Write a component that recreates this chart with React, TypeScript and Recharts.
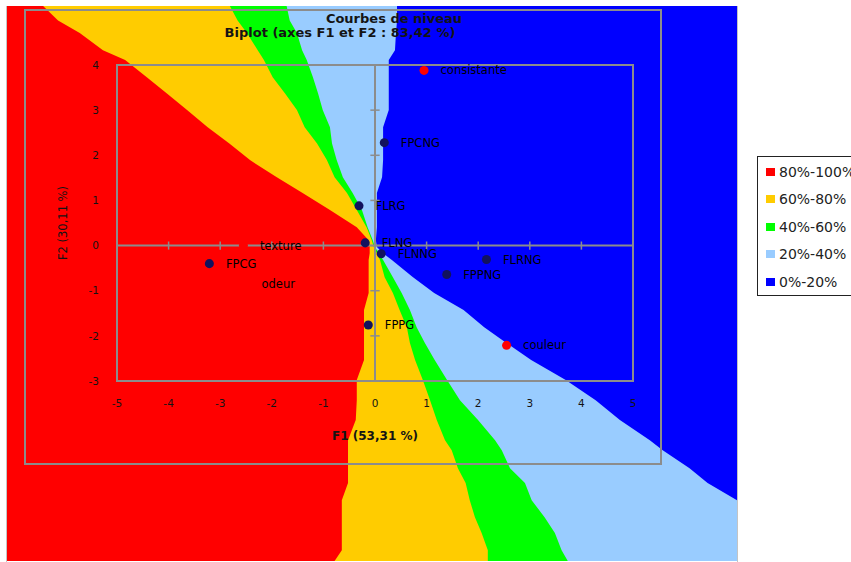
import React from "react";
import {
  ComposedChart,
  Area,
  ScatterChart,
  Scatter,
  XAxis,
  YAxis,
  ZAxis,
  ReferenceArea,
  ReferenceLine,
  LabelList,
} from "recharts";

const RED = "#ff0000";
const YELLOW = "#ffcc00";
const GREEN = "#00ff00";
const LIGHT_BLUE = "#99ccff";
const BLUE = "#0000ff";
const NAVY = "#12125e";
const GREY = "#8c8c8c";
const INK = "#000000";
const FONT = "'DejaVu Sans', Verdana, sans-serif";

// contour rows: F2 value, then the F1 value where each band ends (left to right)
const F2_ROWS = [5.32, 5.0, 4.72, 4.34, 4.12, 3.74, 3.38, 3.01, 2.63, 2.27, 1.9, 1.52, 1.17, 0.79, 0.41, 0.12, -0.03, -0.17, -0.32, -0.7, -1.05, -1.43, -1.81, -2.16, -2.54, -2.98, -3.43, -3.87, -4.32, -4.54, -4.94, -5.27, -5.65, -6.03, -6.38, -6.76, -7.0];
const EDGE_RED = [-6.43, -6.14, -5.72, -5.27, -4.84, -4.42, -4.03, -3.64, -3.24, -2.82, -2.42, -1.9, -1.4, -0.87, -0.35, -0.12, -0.1, -0.1, -0.12, -0.12, -0.12, -0.21, -0.21, -0.21, -0.21, -0.35, -0.35, -0.37, -0.52, -0.52, -0.52, -0.52, -0.64, -0.64, -0.64, -0.64, -0.78];
const EDGE_YELLOW = [-2.81, -2.66, -2.48, -2.27, -2.15, -1.98, -1.74, -1.51, -1.36, -1.12, -0.93, -0.78, -0.54, -0.35, -0.16, -0.06, -0.02, 0.04, 0.1, 0.19, 0.35, 0.48, 0.62, 0.68, 0.78, 0.93, 1.07, 1.2, 1.36, 1.49, 1.61, 1.76, 1.84, 1.94, 2.07, 2.19, 2.19];
const EDGE_GREEN = [-1.71, -1.65, -1.51, -1.41, -1.32, -1.2, -1.1, -1.01, -0.87, -0.83, -0.74, -0.62, -0.43, -0.25, -0.14, -0.04, 0.0, 0.08, 0.16, 0.35, 0.52, 0.68, 0.81, 0.97, 1.16, 1.4, 1.65, 2.0, 2.33, 2.46, 2.62, 2.91, 3.04, 3.29, 3.49, 3.62, 3.74];
const EDGE_LIGHT = [0.43, 0.43, 0.41, 0.39, 0.27, 0.27, 0.27, 0.27, 0.16, 0.16, 0.16, 0.14, 0.04, 0.04, 0.04, 0.02, 0.04, 0.16, 0.33, 0.74, 1.15, 1.72, 2.12, 2.55, 3.03, 3.7, 4.28, 4.75, 5.33, 5.58, 6.1, 6.45, 7.02, 7.02, 7.02, 7.02, 7.02];

const F1_MIN = -7.13;
const F1_MAX = 7.02;
const F2_MIN = -7.0;
const F2_MAX = 5.32;

const LEVELS = ["80%-100%", "60%-80%", "40%-60%", "20%-40%", "0%-20%"];
const LEVEL_COLORS = [RED, YELLOW, GREEN, LIGHT_BLUE, BLUE];

// observations (dark points)
const OBS_NAMES = ["FPCNG", "FLRG", "FLNG", "FLNNG", "FPCG", "FPPG", "FLRNG", "FPPNG"];
const OBS_F1 = [0.18, -0.31, -0.19, 0.12, -3.21, -0.13, 2.16, 1.39];
const OBS_F2 = [2.28, 0.88, 0.06, -0.18, -0.4, -1.76, -0.31, -0.64];

// variables (red points)
const VAR_NAMES = ["consistante", "couleur", "texture", "odeur"];
const VAR_F1 = [0.95, 2.55, -2.55, -2.52];
const VAR_F2 = [3.88, -2.21, 0.0, -0.84];

const X_TICKS = [-5, -4, -3, -2, -1, 0, 1, 2, 3, 4, 5];
const Y_TICKS = [-3, -2, -1, 0, 1, 2, 3, 4];

const contour = F2_ROWS.map((f2, i) => ({
  f2,
  all: F1_MAX,
  light: EDGE_LIGHT[i],
  green: EDGE_GREEN[i],
  yellow: EDGE_YELLOW[i],
  red: EDGE_RED[i],
}));
const obs = OBS_NAMES.map((name, i) => ({ name, f1: OBS_F1[i], f2: OBS_F2[i] }));
const vars = VAR_NAMES.map((name, i) => ({ name, f1: VAR_F1[i], f2: VAR_F2[i] }));

const bands = [
  { key: "all", color: BLUE },
  { key: "light", color: LIGHT_BLUE },
  { key: "green", color: GREEN },
  { key: "yellow", color: YELLOW },
  { key: "red", color: RED },
];

const tickStyle = { fontSize: 10.5, fill: "#141414", fontFamily: FONT };
const pointLabel = { fontSize: 11.5, fill: INK, fontFamily: FONT };

function Contours() {
  return (
    <ComposedChart layout="vertical" width={851} height={562} data={contour} margin={{ top: 6, right: 114, bottom: 1, left: 7 }}>
      <XAxis type="number" domain={[F1_MIN, F1_MAX]} hide allowDataOverflow />
      <YAxis type="number" dataKey="f2" domain={[F2_MIN, F2_MAX]} hide allowDataOverflow reversed />
      {bands.map((b) => (
        <Area
          key={b.key}
          dataKey={b.key}
          type="linear"
          baseValue="dataMin"
          fill={b.color}
          fillOpacity={1}
          stroke="none"
          isAnimationActive={false}
        />
      ))}
    </ComposedChart>
  );
}

function Biplot() {
  return (
    <ScatterChart width={851} height={562} margin={{ top: 65, right: 218, bottom: 151, left: 57 }}>
      <XAxis
        type="number"
        dataKey="f1"
        domain={[-5, 5]}
        ticks={X_TICKS}
        interval={0}
        height={30}
        axisLine={false}
        tickLine={false}
        tickSize={6}
        tickMargin={13}
        tick={tickStyle}
        allowDataOverflow
        label={{
          value: "F1 (53,31 %)",
          position: "bottom",
          offset: 20,
          fontSize: 12,
          fontWeight: "bold",
          fill: "#141414",
          fontFamily: FONT,
        }}
      />
      <YAxis
        type="number"
        dataKey="f2"
        domain={[-3, 4]}
        ticks={Y_TICKS}
        interval={0}
        width={60}
        axisLine={false}
        tickLine={false}
        tickSize={6}
        tickMargin={12}
        tick={tickStyle}
        allowDataOverflow
        label={{
          value: "F2 (30,11 %)",
          angle: -90,
          position: "insideLeft",
          offset: 6,
          fontSize: 11.5,
          fill: "#141414",
          fontFamily: FONT,
          style: { textAnchor: "middle" },
        }}
      />
      <ZAxis range={[40, 40]} />
      <ReferenceArea x1={-5} x2={5} y1={-3} y2={4} fill="none" stroke={GREY} strokeWidth={2} ifOverflow="visible" />
      <ReferenceLine x={0} stroke={GREY} strokeWidth={2} />
      <ReferenceLine y={0} stroke={GREY} strokeWidth={2} />
      {X_TICKS.map((t) => (
        <ReferenceLine key={`xt${t}`} segment={[{ x: t, y: -0.09 }, { x: t, y: 0.09 }]} stroke={GREY} strokeWidth={1.5} />
      ))}
      {Y_TICKS.map((t) => (
        <ReferenceLine key={`yt${t}`} segment={[{ x: -0.09, y: t }, { x: 0.09, y: t }]} stroke={GREY} strokeWidth={1.5} />
      ))}
      <Scatter data={obs} fill={NAVY} isAnimationActive={false}>
        <LabelList dataKey="name" position="right" offset={12} {...pointLabel} style={pointLabel} />
      </Scatter>
      <Scatter data={vars} fill={RED} isAnimationActive={false}>
        <LabelList dataKey="name" position="right" offset={12} {...pointLabel} style={pointLabel} />
      </Scatter>
    </ScatterChart>
  );
}

export default function App() {
  return (
    <div style={{ position: "absolute", left: 0, top: 0, width: 851, height: 562, overflow: "hidden", background: "#fff", fontFamily: FONT }}>
      <div style={{ position: "absolute", left: 0, top: 0 }}>
        <Contours />
      </div>
      {/* thin frame round the coloured field */}
      <div style={{ position: "absolute", left: 6, top: 6, width: 732, height: 560, borderLeft: "1.5px solid #c4c4c4", borderRight: "1.5px solid #c4c4c4", boxSizing: "border-box" }} />
      {/* outer plot frame */}
      <div style={{ position: "absolute", left: 24, top: 9, width: 638, height: 456, border: `2px solid ${GREY}`, boxSizing: "border-box" }} />
      <div style={{ position: "absolute", left: 0, top: 0 }}>
        <Biplot />
      </div>
      <div style={{ position: "absolute", left: 244, top: 11, width: 300, textAlign: "center", fontSize: 13, lineHeight: "15px", fontWeight: "bold", color: "#141414" }}>
        Courbes de niveau
      </div>
      <div style={{ position: "absolute", left: 190, top: 25, width: 300, textAlign: "center", fontSize: 13, lineHeight: "15px", fontWeight: "bold", color: "#141414" }}>
        Biplot (axes F1 et F2 : 83,42 %)
      </div>
      <div style={{ position: "absolute", left: 757, top: 156, width: 130, height: 140, border: "1px solid #222", background: "#fff", boxSizing: "border-box", paddingTop: 1 }}>
        {LEVELS.map((lv, i) => (
          <div key={lv} style={{ height: 27.5, display: "flex", alignItems: "center", fontSize: 14, color: "#222", whiteSpace: "nowrap" }}>
            <span style={{ display: "inline-block", width: 9, height: 8, background: LEVEL_COLORS[i], marginLeft: 8, marginRight: 4 }} />
            {lv}
          </div>
        ))}
      </div>
    </div>
  );
}
